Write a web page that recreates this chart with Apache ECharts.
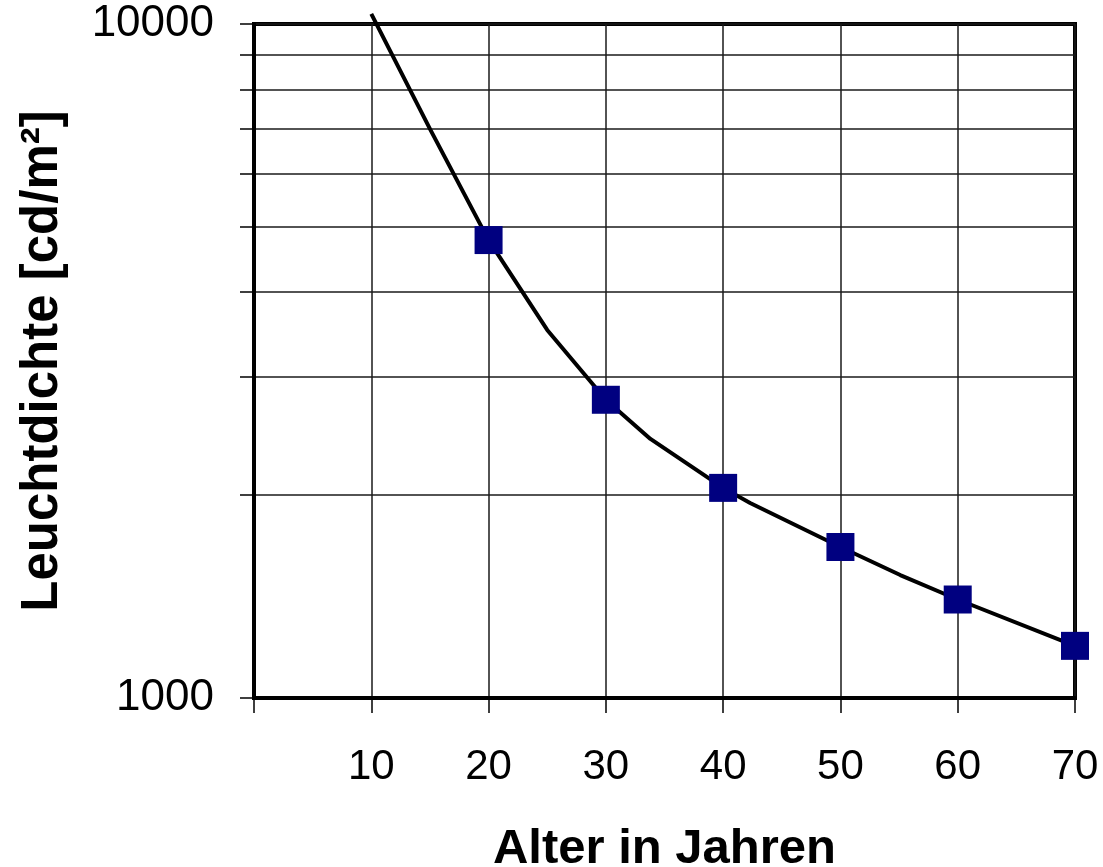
<!DOCTYPE html>
<html>
<head>
<meta charset="utf-8">
<script src="https://cdn.jsdelivr.net/npm/echarts@6/dist/echarts.min.js"></script>
<style>
  html, body { margin: 0; padding: 0; background: #fff; }
  #chart { width: 1103px; height: 867px; }
</style>
</head>
<body>
<div id="chart"></div>
<script>
// Measured points: age (years) and required luminance (cd/m²)
const ages = [20, 30, 40, 50, 60, 70];
const luminance = [4780, 2770, 2050, 1675, 1400, 1195];

// Fitted curve through the measurements
const curveAges = [10, 15, 20, 25, 30, 33.8, 40, 42.3, 50, 55.1, 60, 70];
const curveLuminance = [10350, 6990, 4780, 3516, 2770, 2423, 2050, 1947, 1675, 1522, 1400, 1195];

// Axis ticks
const xTicks = [0, 10, 20, 30, 40, 50, 60, 70];
const xTickLabels = [10, 20, 30, 40, 50, 60, 70];
const yTicks = [1000, 2000, 3000, 4000, 5000, 6000, 7000, 8000, 9000, 10000];
const yTickLabels = [1000, 10000];

const FONT = '"Liberation Sans", Arial, sans-serif';

const chart = echarts.init(document.getElementById('chart'), null, { renderer: 'canvas' });

chart.setOption({
  backgroundColor: '#fff',
  animation: false,
  grid: {
    left: 254, right: 28, top: 24, bottom: 169,
    outerBoundsMode: 'none',
    containLabel: false,
    show: true, borderColor: '#000', borderWidth: 4, backgroundColor: 'transparent'
  },
  xAxis: {
    type: 'value',
    min: 0, max: 70, interval: 10,
    name: 'Alter in Jahren',
    nameLocation: 'middle',
    nameGap: 127,
    nameTextStyle: { fontFamily: FONT, fontSize: 49, fontWeight: 'bold', color: '#000' },
    axisLine: { show: true, onZero: false, lineStyle: { color: '#000', width: 4 } },
    axisTick: { show: true, inside: false, length: 15, customValues: xTicks, lineStyle: { color: '#000', width: 1.5 } },
    axisLabel: { customValues: xTickLabels, margin: 48, fontFamily: FONT, fontSize: 42, color: '#000',
                 formatter: v => String(v) },
    splitLine: { show: true, lineStyle: { color: '#1a1a1a', width: 1.5 } }
  },
  yAxis: {
    type: 'log',
    logBase: 10,
    min: 1000, max: 10000,
    name: 'Leuchtdichte [cd/m²]',
    nameLocation: 'middle',
    nameGap: 186,
    nameRotate: 90,
    nameTextStyle: { fontFamily: FONT, fontSize: 51, fontWeight: 'bold', color: '#000' },
    axisLine: { show: true, lineStyle: { color: '#000', width: 4 } },
    axisTick: { show: true, inside: false, length: 14, customValues: yTicks, lineStyle: { color: '#000', width: 1.5 } },
    axisLabel: { customValues: yTickLabels, margin: 40, fontFamily: FONT, fontSize: 44, color: '#000',
                 padding: [8, 0, 0, 0],
                 formatter: v => String(Math.round(v)) },
    splitLine: { show: true, lineStyle: { color: '#1a1a1a', width: 1.5 } }
  },
  series: [
    {
      type: 'line',
      data: curveAges.map((a, i) => [a, curveLuminance[i]]),
      showSymbol: false,
      symbol: 'none',
      clip: false,
      lineStyle: { color: '#000', width: 4 },
      z: 3
    },
    {
      type: 'scatter',
      data: ages.map((a, i) => [a, luminance[i]]),
      symbol: 'rect',
      symbolSize: 28,
      clip: false,
      itemStyle: { color: '#000080', opacity: 1 },
      z: 4
    }
  ]
});
</script>
</body>
</html>
